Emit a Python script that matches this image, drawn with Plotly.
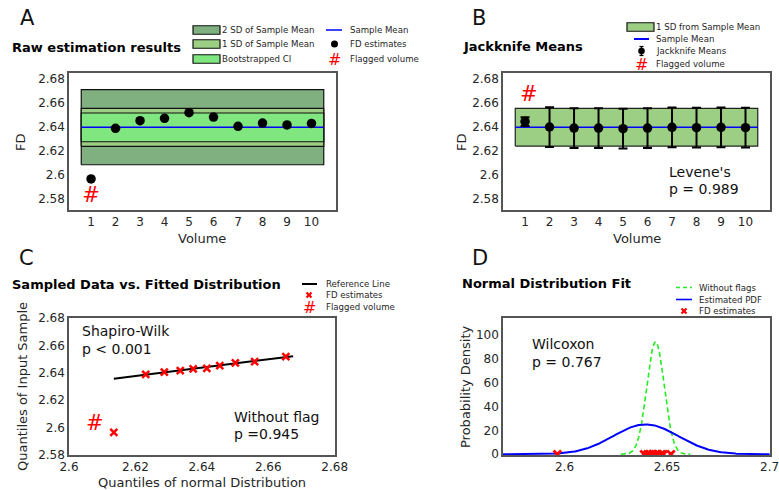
import numpy as np
import plotly.graph_objects as go

# ---------------- data ----------------
volumes = list(range(1, 11))
fd_estimates = [2.5965, 2.6388, 2.6452, 2.6472, 2.6519, 2.6482, 2.6405, 2.6432, 2.6416, 2.6429]
flagged_volume = 1

sample_mean = 2.6397
band_span = [0.6, 10.5]
sd2_band = [2.6084, 2.6711]
sd1_band = [2.6238, 2.6555]
boot_ci = [2.6276, 2.6516]
flag_mark_a = [1.0, 2.5817]

jack_means = [2.6444, 2.6399, 2.6390, 2.6390, 2.6385, 2.6390, 2.6396, 2.6393, 2.6396, 2.6393]
jack_err = [0.0037, 0.0166, 0.0166, 0.0166, 0.0166, 0.0166, 0.0166, 0.0166, 0.0166, 0.0166]
jack_sd_band = [2.6240, 2.6555]
flag_mark_b = [1.15, 2.666]

theoretical_q = [2.6135, 2.6231, 2.6287, 2.6335, 2.6374, 2.6415, 2.6454, 2.6501, 2.6559, 2.6653]
sample_q = sorted(fd_estimates)
ref_line_x = [2.6135, 2.6675]
ref_line_y = [2.6356, 2.6522]
flag_mark_c = [2.6078, 2.6023]

pdf_all = {"mean": 2.6396, "sd": 0.0159}
pdf_noflag = {"mean": 2.6444, "sd": 0.00423}

yticks_fd = [2.58, 2.60, 2.62, 2.64, 2.66, 2.68]
yticks_fd_text = ["2.58", "2.6", "2.62", "2.64", "2.66", "2.68"]
xticks_q = [2.60, 2.62, 2.64, 2.66, 2.68]
xticks_q_text = ["2.6", "2.62", "2.64", "2.66", "2.68"]
xticks_d = [2.60, 2.65, 2.70]
xticks_d_text = ["2.6", "2.65", "2.7"]
yticks_d = [0, 20, 40, 60, 80, 100]

# ---------------- style ----------------
W, H = 779, 490
FONT = "DejaVu Sans"
C_SD2 = "#80b080"
C_SD1 = "#9ccf83"
C_CI = "#80e680"
C_BLUE = "#0000ff"
C_RED = "#ff0000"
C_GREEN = "#22ee22"
TXT = "#262626"


def fx(p):
    return p / W


def fy(p):
    return 1 - p / H


def rect_xy(xs, ys):
    return [xs[0], xs[1], xs[1], xs[0], xs[0]], [ys[0], ys[0], ys[1], ys[1], ys[0]]


fig = go.Figure()

# ---------------- A: raw estimation results ----------------
for band, col in [(sd2_band, C_SD2), (sd1_band, C_SD1), (boot_ci, C_CI)]:
    rx, ry = rect_xy(band_span, band)
    fig.add_trace(go.Scatter(x=rx, y=ry, mode="lines", fill="toself", fillcolor=col,
                             line=dict(color="#111111", width=1.2), xaxis="x", yaxis="y"))
fig.add_trace(go.Scatter(x=band_span, y=[sample_mean, sample_mean], mode="lines",
                         line=dict(color=C_BLUE, width=1.5), xaxis="x", yaxis="y"))
fig.add_trace(go.Scatter(x=volumes, y=fd_estimates, mode="markers",
                         marker=dict(color="black", size=9.5), xaxis="x", yaxis="y"))
fig.add_trace(go.Scatter(x=[flag_mark_a[0]], y=[flag_mark_a[1]], mode="text", text=["#"],
                         textfont=dict(color=C_RED, size=21, family=FONT), xaxis="x", yaxis="y"))

# ---------------- B: jackknife means ----------------
rx, ry = rect_xy(band_span, jack_sd_band)
fig.add_trace(go.Scatter(x=rx, y=ry, mode="lines", fill="toself", fillcolor=C_SD1,
                         line=dict(color="#222222", width=1.2), xaxis="x2", yaxis="y2"))
fig.add_trace(go.Scatter(x=band_span, y=[sample_mean, sample_mean], mode="lines",
                         line=dict(color=C_BLUE, width=1.5), xaxis="x2", yaxis="y2"))
fig.add_trace(go.Scatter(x=volumes, y=jack_means, mode="markers",
                         marker=dict(color="black", size=9.5),
                         error_y=dict(type="data", array=jack_err, color="black", thickness=2, width=4.5),
                         xaxis="x2", yaxis="y2"))
fig.add_trace(go.Scatter(x=[flag_mark_b[0]], y=[flag_mark_b[1]], mode="text", text=["#"],
                         textfont=dict(color=C_RED, size=21, family=FONT), xaxis="x2", yaxis="y2"))

# ---------------- C: Q-Q plot ----------------
fig.add_trace(go.Scatter(x=ref_line_x, y=ref_line_y, mode="lines",
                         line=dict(color="black", width=2), xaxis="x3", yaxis="y3"))
fig.add_trace(go.Scatter(x=theoretical_q, y=sample_q, mode="markers",
                         marker=dict(symbol="x-thin", size=7, color=C_RED,
                                     line=dict(color=C_RED, width=2.5)),
                         xaxis="x3", yaxis="y3"))
fig.add_trace(go.Scatter(x=[flag_mark_c[0]], y=[flag_mark_c[1]], mode="text", text=["#"],
                         textfont=dict(color=C_RED, size=21, family=FONT), xaxis="x3", yaxis="y3"))

# ---------------- D: normal distribution fit ----------------
def normal_pdf(x, m, s):
    return np.exp(-0.5 * ((x - m) / s) ** 2) / (s * np.sqrt(2 * np.pi))


xa = np.linspace(2.57, 2.70, 400)
m0, s0 = pdf_noflag["mean"], pdf_noflag["sd"]
xn = np.linspace(m0 - 4 * s0, m0 + 4 * s0, 300)
fig.add_trace(go.Scatter(x=xn, y=normal_pdf(xn, m0, s0), mode="lines",
                         line=dict(color=C_GREEN, width=1.6, dash="5px,3px"), xaxis="x4", yaxis="y4"))
fig.add_trace(go.Scatter(x=xa, y=normal_pdf(xa, pdf_all["mean"], pdf_all["sd"]), mode="lines",
                         line=dict(color=C_BLUE, width=2), xaxis="x4", yaxis="y4"))
fig.add_trace(go.Scatter(x=fd_estimates, y=[0] * len(fd_estimates), mode="markers",
                         marker=dict(symbol="x-thin", size=7.5, color=C_RED,
                                     line=dict(color=C_RED, width=2.8)),
                         xaxis="x4", yaxis="y4"))

# ---------------- axes ----------------
axis_common = dict(showline=True, mirror=True, linecolor="#555555", linewidth=1.5,
                   ticks="", showgrid=False, zeroline=False, automargin=False,
                   ticklabeloverflow="allow",
                   tickfont=dict(size=12, color=TXT, family=FONT))

dom = {
    "A": ([69, 336], [73, 210]),
    "B": ([503, 770], [73, 210]),
    "C": ([69, 335], [318, 455]),
    "D": ([503, 770], [318, 455]),
}


def xdom(k):
    return [fx(dom[k][0][0]), fx(dom[k][0][1])]


def ydom(k):
    return [fy(dom[k][1][1]), fy(dom[k][1][0])]


fig.update_layout(
    xaxis=dict(domain=xdom("A"), anchor="y", range=[0.1, 11.0], tickvals=volumes, **axis_common),
    yaxis=dict(domain=ydom("A"), anchor="x", range=[2.5706, 2.685], tickvals=yticks_fd,
               ticktext=yticks_fd_text, **axis_common),
    xaxis2=dict(domain=xdom("B"), anchor="y2", range=[0.1, 11.0], tickvals=volumes, **axis_common),
    yaxis2=dict(domain=ydom("B"), anchor="x2", range=[2.5706, 2.685], tickvals=yticks_fd,
                ticktext=yticks_fd_text, **axis_common),
    xaxis3=dict(domain=xdom("C"), anchor="y3", range=[2.6, 2.6801], tickvals=xticks_q,
                ticktext=xticks_q_text, **axis_common),
    yaxis3=dict(domain=ydom("C"), anchor="x3", range=[2.5799, 2.6801], tickvals=yticks_fd,
                ticktext=yticks_fd_text, **axis_common),
    xaxis4=dict(domain=xdom("D"), anchor="y4", range=[2.57, 2.7002], tickvals=xticks_d,
                ticktext=xticks_d_text, **axis_common),
    yaxis4=dict(domain=ydom("D"), anchor="x4", range=[-0.6, 114.3], tickvals=yticks_d, **axis_common),
)

annotations = []
shapes = []


def text(x, y, s, size=12, color=TXT, bold=False, xanchor="left", angle=0):
    annotations.append(dict(
        xref="paper", yref="paper", x=fx(x), y=fy(y), text=("<b>%s</b>" % s) if bold else s,
        showarrow=False, xanchor=xanchor, yanchor="middle", textangle=angle,
        font=dict(family=FONT, size=size, color=color)))


# panel letters and titles
for letter, (lx, ly) in {"A": (27, 18), "B": (479, 18), "C": (26, 258), "D": (480, 258)}.items():
    text(lx, ly, letter, size=21, color="#111111", xanchor="center")
text(10, 48, "Raw estimation results", size=13, color="black", bold=True)
text(461, 46, "Jackknife Means", size=13, color="black", bold=True)
text(10, 284, "Sampled Data vs. Fitted Distribution", size=13, color="black", bold=True)
text(460, 283, "Normal Distribution Fit", size=13, color="black", bold=True)

# axis titles
text(21, 142, "FD", size=13, xanchor="center", angle=-90)
text(202, 238, "Volume", size=13, xanchor="center")
text(462, 142, "FD", size=13, xanchor="center", angle=-90)
text(637, 238, "Volume", size=13, xanchor="center")
text(22, 387, "Quantiles of Input Sample", size=13, xanchor="center", angle=-90)
text(202, 482, "Quantiles of normal Distribution", size=13, xanchor="center")
text(465, 387, "Probability Density", size=13, xanchor="center", angle=-90)

# statistics text
text(667, 172, "Levene's", size=14, color="#111111")
text(667, 189, "p = 0.989", size=14, color="#111111")
text(80, 331, "Shapiro-Wilk", size=14, color="#111111")
text(80, 349, "p < 0.001", size=14, color="#111111")
text(232, 417, "Without flag", size=14, color="#111111")
text(232, 434, "p =0.945", size=14, color="#111111")
text(530, 344, "Wilcoxon", size=14, color="#111111")
text(530, 362, "p = 0.767", size=14, color="#111111")


# ---------------- legend glyphs ----------------
def swatch(x0, x1, yc, h, col):
    shapes.append(dict(type="rect", xref="paper", yref="paper", x0=fx(x0), x1=fx(x1),
                       y0=fy(yc + h / 2), y1=fy(yc - h / 2), fillcolor=col,
                       line=dict(color="#111111", width=1.2)))


def hline(x0, x1, yc, col, width=1.5, dash="solid"):
    shapes.append(dict(type="line", xref="paper", yref="paper", x0=fx(x0), x1=fx(x1),
                       y0=fy(yc), y1=fy(yc), line=dict(color=col, width=width, dash=dash)))


def dot(xc, yc, r, col="black"):
    shapes.append(dict(type="circle", xref="paper", yref="paper", x0=fx(xc - r), x1=fx(xc + r),
                       y0=fy(yc + r), y1=fy(yc - r), fillcolor=col, line=dict(color=col, width=0)))


def cross(xc, yc, r, col=C_RED):
    for dy in (r, -r):
        shapes.append(dict(type="line", xref="paper", yref="paper", x0=fx(xc - r), x1=fx(xc + r),
                           y0=fy(yc - dy), y1=fy(yc + dy), line=dict(color=col, width=2.2)))


def vline(xc, y0, y1, col="black", width=1.5):
    shapes.append(dict(type="line", xref="paper", yref="paper", x0=fx(xc), x1=fx(xc),
                       y0=fy(y0), y1=fy(y1), line=dict(color=col, width=width)))


LEG = 8.6
# A legend
swatch(193, 220, 30, 8.5, C_SD2)
text(220, 30, "2 SD of Sample Mean", size=LEG)
swatch(193, 220, 44, 8.5, C_SD1)
text(220, 44, "1 SD of Sample Mean", size=LEG)
swatch(193, 220, 59, 8.5, C_CI)
text(220, 59, "Bootstrapped CI", size=LEG)
hline(326, 342, 30, C_BLUE)
text(348, 30, "Sample Mean", size=LEG)
dot(334.5, 44, 3.5)
text(348, 44, "FD estimates", size=LEG)
text(334, 59, "#", size=16, color=C_RED, xanchor="center")
text(348, 59, "Flagged volume", size=LEG)

# B legend
swatch(627, 654, 27, 8.5, C_SD1)
text(654, 27, "1 SD from Sample Mean", size=LEG)
hline(634, 649, 39, C_BLUE, width=2)
text(654, 39, "Sample Mean", size=LEG)
vline(641.5, 46.5, 55.5, width=1.5)
hline(639.5, 643.5, 46.5, "black", width=1.2)
hline(639.5, 643.5, 55.5, "black", width=1.2)
dot(641.5, 51, 3.3)
text(654, 51, "Jackknife Means", size=LEG)
text(641, 64, "#", size=16, color=C_RED, xanchor="center")
text(654, 64, "Flagged volume", size=LEG)

# C legend
hline(302, 317, 284, "black", width=2)
text(324, 284, "Reference Line", size=LEG)
cross(309, 295, 2.5)
text(324, 295, "FD estimates", size=LEG)
text(309, 307, "#", size=16, color=C_RED, xanchor="center")
text(324, 307, "Flagged volume", size=LEG)

# D legend
hline(676, 692, 287.5, C_GREEN, width=1.6, dash="4px,3px")
text(697, 287.5, "Without flags", size=LEG)
hline(676, 692, 299.5, C_BLUE, width=1.6)
text(697, 299.5, "Estimated PDF", size=LEG)
cross(684, 311, 2.5)
text(697, 311, "FD estimates", size=LEG)

fig.update_layout(
    width=W, height=H, margin=dict(l=0, r=0, t=0, b=0), showlegend=False,
    plot_bgcolor="white", paper_bgcolor="white",
    font=dict(family=FONT, color=TXT),
    annotations=annotations, shapes=shapes,
)

fig.write_html("out.html")
